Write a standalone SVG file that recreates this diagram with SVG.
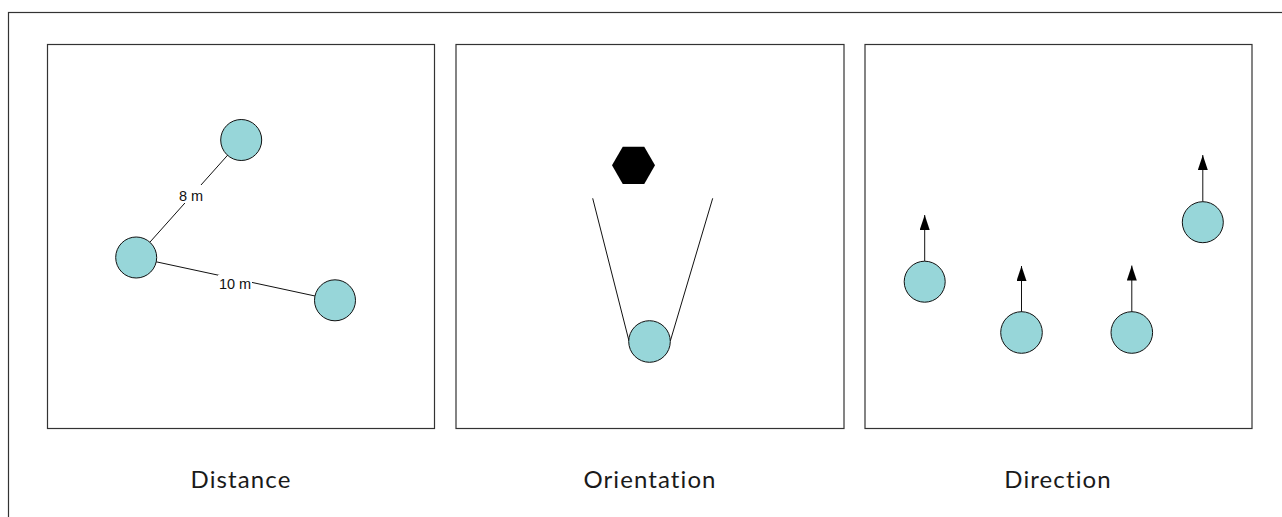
<svg xmlns="http://www.w3.org/2000/svg" width="1282" height="517" viewBox="0 0 1282 517">
<defs>
<style>
.frame{fill:none;stroke:#333;stroke-width:1.2}
.panel{fill:#fff;stroke:#333;stroke-width:1.2}
.node{fill:#97d6d9;stroke:#111;stroke-width:1}
.edge{fill:none;stroke:#111;stroke-width:1}
.cap{font-family:Lato,"Noto Sans",sans-serif;font-size:24px;font-weight:400;fill:#1a1a1a;text-anchor:middle;font-variant-ligatures:none;letter-spacing:1.1px}
.lbl{font-family:"Liberation Sans",Arial,sans-serif;font-size:14.5px;fill:#111;text-anchor:middle}
</style>
<marker id="arr" viewBox="0 0 15 10" refX="15" refY="5" markerWidth="15" markerHeight="10" markerUnits="userSpaceOnUse" orient="auto">
<path d="M15,5 L0,10 L0,0 Z" fill="#000"/>
</marker>
</defs>
<rect x="8.5" y="12.5" width="1300" height="520" class="frame"/>
<g id="panel-distance">
<rect x="47.5" y="44.5" width="387" height="384" class="panel"/>
<text x="241" y="488" class="cap">Distance</text>
</g>
<g id="panel-orientation">
<rect x="456" y="44.5" width="388" height="384" class="panel"/>
<text x="650" y="488" class="cap">Orientation</text>
</g>
<g id="panel-direction">
<rect x="865" y="44.5" width="387" height="384" class="panel"/>
<text x="1058" y="488" class="cap">Direction</text>
</g>
<g id="connectors">
<line x1="136.2" y1="257.5" x2="241.2" y2="140" class="edge"/>
<line x1="136.2" y1="257.5" x2="335" y2="300.3" class="edge"/>
<rect x="177" y="185" width="27" height="18" fill="#fff"/>
<rect x="218" y="275" width="34" height="16" fill="#fff"/>
<text x="191" y="201" class="lbl">8 m</text>
<text x="235" y="288.5" class="lbl">10 m</text>
<line x1="592.7" y1="198.3" x2="629" y2="341" class="edge"/>
<line x1="712.7" y1="198.3" x2="670.3" y2="341" class="edge"/>
<line x1="924.7" y1="261" x2="924.7" y2="215" class="edge" marker-end="url(#arr)"/>
<line x1="1021.5" y1="312" x2="1021.5" y2="266" class="edge" marker-end="url(#arr)"/>
<line x1="1131.8" y1="312" x2="1131.8" y2="265.5" class="edge" marker-end="url(#arr)"/>
<line x1="1202.8" y1="201.7" x2="1202.8" y2="155" class="edge" marker-end="url(#arr)"/>
</g>
<g id="node-d1"><circle cx="241.2" cy="140" r="20.5" class="node"/></g>
<g id="node-d2"><circle cx="136.2" cy="257.5" r="20.5" class="node"/></g>
<g id="node-d3"><circle cx="335" cy="300.3" r="20.5" class="node"/></g>
<g id="node-hex"><polygon points="655,165.3 644.25,183.9 622.75,183.9 612,165.3 622.75,146.7 644.25,146.7" fill="#000"/></g>
<g id="node-o1"><circle cx="649.5" cy="341.5" r="20.8" class="node"/></g>
<g id="node-r1"><circle cx="924.7" cy="281.7" r="20.5" class="node"/></g>
<g id="node-r2"><circle cx="1021.5" cy="332.5" r="20.8" class="node"/></g>
<g id="node-r3"><circle cx="1131.8" cy="332.5" r="20.8" class="node"/></g>
<g id="node-r4"><circle cx="1202.8" cy="222.2" r="20.5" class="node"/></g>
</svg>
